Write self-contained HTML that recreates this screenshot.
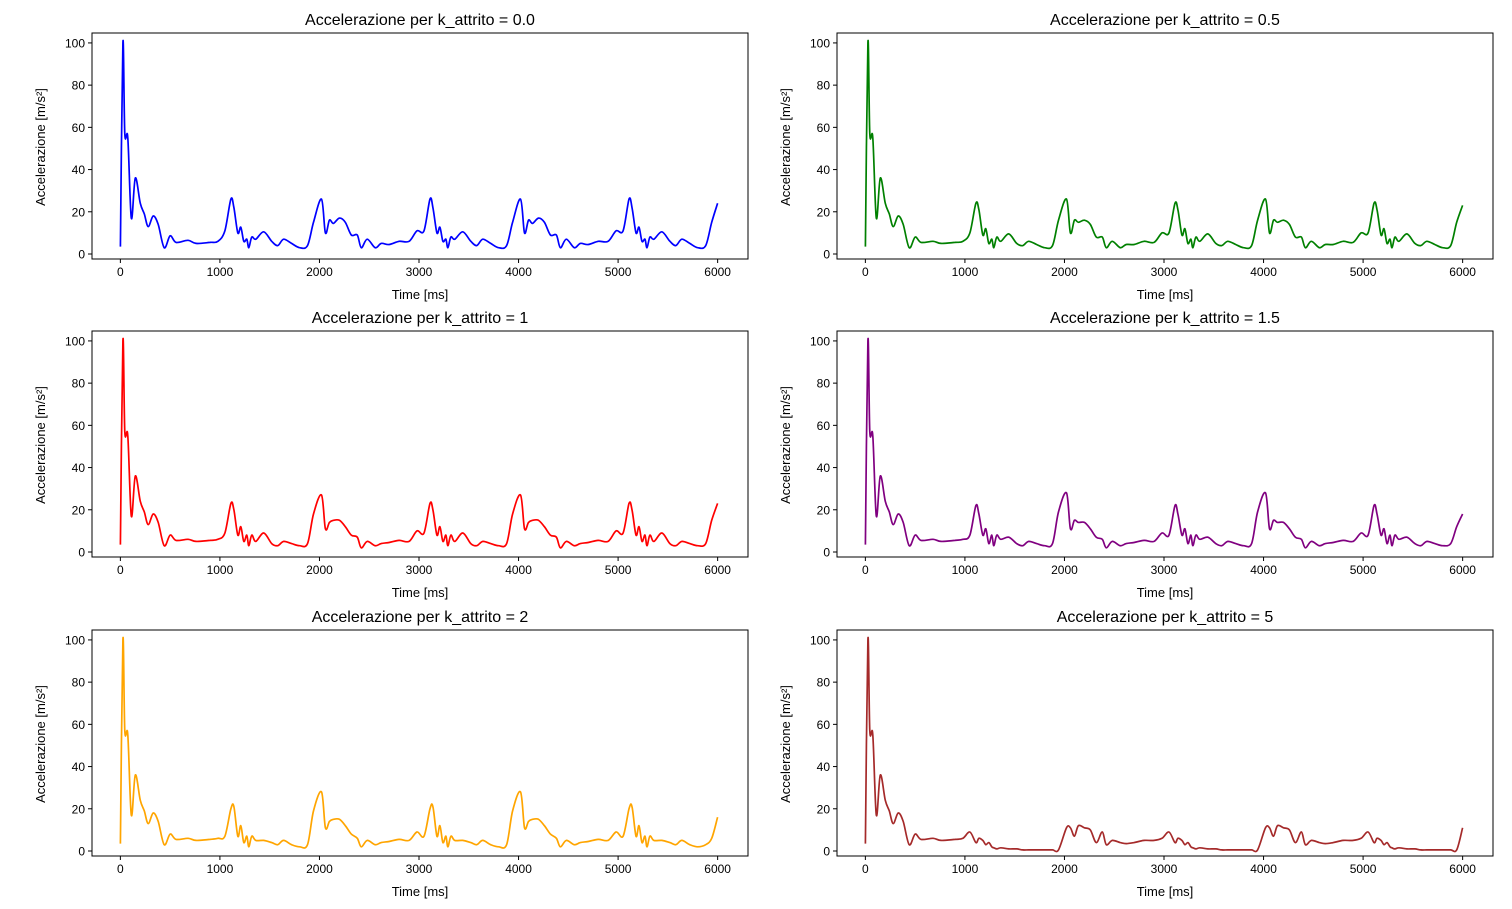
<!DOCTYPE html>
<html><head><meta charset="utf-8"><style>
html,body{margin:0;padding:0;background:#fff;}
svg{display:block;font-family:"Liberation Sans","DejaVu Sans",sans-serif;}
</style></head><body>
<svg id="fig" width="1512" height="909" viewBox="0 0 1512 909" xmlns="http://www.w3.org/2000/svg"></svg>
<script>
const T = [0,25,45,75,110,150,200,240,280,330,380,440,500,560,680,760,900,980,
1050,1110,1140,1180,1210,1240,1270,1290,1320,1360,1440,1520,1580,1640,1720,1800,1880,1940,
2020,2060,2100,2140,2200,2260,2320,2380,2420,2480,2560,2620,2700,2800,2900,2980,
3050,3110,3140,3180,3210,3240,3270,3290,3320,3360,3440,3520,3580,3640,3720,3800,3880,3940,
4020,4060,4100,4140,4200,4260,4320,4380,4420,4480,4560,4620,4700,4800,4900,4980,
5050,5110,5140,5180,5210,5240,5270,5290,5320,5360,5440,5520,5580,5640,5720,5800,5880,5940,
6000];
const titles = ["Accelerazione per k_attrito = 0.0","Accelerazione per k_attrito = 0.5","Accelerazione per k_attrito = 1","Accelerazione per k_attrito = 1.5","Accelerazione per k_attrito = 2","Accelerazione per k_attrito = 5"];
const colors = ["#0000ff","#008000","#ff0000","#800080","#ffa500","#a52a2a"];
const s0 = [3.5,100,57,55,17,36,24,19,13,18,14,3,8.6,5.5,6.5,5,5.5,6,
11,26,22,10,12.7,6,7,3,8,7,10.5,6,4,7,5,3,4,15,
26,10,16,14.5,17,15,9,9,3,7,3,5,4.5,6,6,11,
11,26,22,10,12.7,6,7,3,8,7,10.5,6,4,7,5,3,4,15,
26,10,16,14.5,17,15,9,9,3,7,3,5,4.5,6,6,11,
11,26,22,10,12.7,6,7,3,8,7,10.5,6,4,7,5,3,4,15,
24];
const s1 = [3.5,100,57,55,17,36,24,19,13,18,14,3,8,5.5,6,5,5.5,6,
10,24,21,9,12,5,7,3,8,6,9.5,5,4,6,4.5,3,4,16,
26,10,16,15,16,14,8,8,3,6,3,4.5,4.5,6,5.5,10,
10,24,21,9,12,5,7,3,8,6,9.5,5,4,6,4.5,3,4,16,
26,10,16,15,16,14,8,8,3,6,3,4.5,4.5,6,5.5,10,
10,24,21,9,12,5,7,3,8,6,9.5,5,4,6,4.5,3,4,15,
23];
const s2 = [3.5,100,57,55,17,36,24,19,13,18,14,3,8,5.5,6,5,5.5,6,
9,23,20,8,12,5,8,3,8,5,9,4,3,5,4,3,4,18,
27,11,14,15,15,12,8,7,2,5,3,4,4.5,5.5,5,10,
9,23,20,8,12,5,8,3,8,5,9,4,3,5,4,3,4,18,
27,11,14,15,15,12,8,7,2,5,3,4,4.5,5.5,5,10,
9,23,20,8,12,5,8,3,8,5,9,4,3,5,4,3,4,15,
23];
const s3 = [3.5,100,57,55,17,36,24,19,13,18,14,3,8,5.5,6,5,5.5,6,
8,22,18,8,11,4,8,3,8,6,7,4,3,5,4,3,4,19,
28,11,15,14,14,11,7,6,2,5,3,4,4.5,5.5,5,9,
8,22,18,8,11,4,8,3,8,6,7,4,3,5,4,3,4,19,
28,11,15,14,14,11,7,6,2,5,3,4,4.5,5.5,5,9,
8,22,18,8,11,4,8,3,8,6,7,4,3,5,4,3,4,12,
18];
const s4 = [3.5,100,57,55,17,36,24,19,13,18,14,3,8,5.5,6,5,5.5,6,
7,20,21,7,12,4,7,2,7,5,5,4,3,5,3,2,3,19,
28,11,14,15,15,12,8,6,2,5,3,4,4.5,5.5,5,9,
7,20,21,7,12,4,7,2,7,5,5,4,3,5,3,2,3,19,
28,11,14,15,15,12,8,6,2,5,3,4,4.5,5.5,5,9,
7,20,21,7,12,4,7,2,7,5,5,4,3,5,3,2,3,6,
16];
const s5 = [3.5,100,57,55,17,36,24,19,13,18,14,3,8,5.5,6,5,5.5,6,
9,4,6,5,3,4,2,1.5,1,1.5,1,1,0.5,0.5,0.5,0.5,0.5,0.5,
11,11,7,12,11,10,4,9,3,5,4,3.5,4,5,5,6,
9,4,6,5,3,4,2,1.5,1,1.5,1,1,0.5,0.5,0.5,0.5,0.5,0.5,
11,11,7,12,11,10,4,9,3,5,4,3.5,4,5,5,6,
9,4,6,5,3,4,2,1.5,1,1.5,1,1,0.5,0.5,0.5,0.5,0.5,0.5,
11];
const series = [s0,s1,s2,s3,s4,s5];
const xTicks = [0,1000,2000,3000,4000,5000,6000];
const yTicks = [0,20,40,60,80,100];

const NS = "http://www.w3.org/2000/svg";
const fig = document.getElementById('fig');
function mk(tag, attrs, parent){const e=document.createElementNS(NS,tag);for(const k in attrs)e.setAttribute(k,attrs[k]);(parent||fig).appendChild(e);return e;}
const lefts=[92,837], tops=[33,331,630], W=656, H=226;
const xMin=-285,xMax=6305,yMin=-2.37,yMax=104.7;
function smoothPath(P){
  let d='M'+P[0][0].toFixed(1)+','+P[0][1].toFixed(1);
  for(let i=0;i<P.length-1;i++){
    const p0=P[Math.max(0,i-1)],p1=P[i],p2=P[i+1],p3=P[Math.min(P.length-1,i+2)];
    const c1x=p1[0]+(p2[0]-p0[0])/6,c1y=p1[1]+(p2[1]-p0[1])/6;
    const c2x=p2[0]-(p3[0]-p1[0])/6,c2y=p2[1]-(p3[1]-p1[1])/6;
    d+='C'+c1x.toFixed(1)+','+c1y.toFixed(1)+' '+c2x.toFixed(1)+','+c2y.toFixed(1)+' '+p2[0].toFixed(1)+','+p2[1].toFixed(1);
  }
  return d;
}
for(let i=0;i<6;i++){
  const L=lefts[i%2], Tp=tops[Math.floor(i/2)];
  const xs=v=>L+(v-xMin)/(xMax-xMin)*W;
  const ys=v=>Tp+H-(v-yMin)/(yMax-yMin)*H;
  const g=mk('g',{});
  
  
  const pts=T.map((t,j)=>[xs(t),ys(series[i][j])]);
  const p=mk('path',{d:smoothPath(pts),fill:'none',stroke:colors[i],'stroke-width':1.7,'stroke-linejoin':'round'},g);
  
  
  const fr=mk('rect',{x:L,y:Tp,width:W,height:H,fill:'none',stroke:'#000','stroke-width':1},g);
  
  
  xTicks.forEach(v=>{const x=xs(v);mk('line',{x1:x,x2:x,y1:Tp+H,y2:Tp+H+4,stroke:'#000'},g);
    const t=mk('text',{x:x,y:Tp+H+17,'font-size':12,'text-anchor':'middle'},g);t.textContent=v;
    
    });
  yTicks.forEach(v=>{const y=ys(v);mk('line',{x1:L-4,x2:L,y1:y,y2:y,stroke:'#000'},g);
    const t=mk('text',{x:L-7,y:y+4.5,'font-size':12,'text-anchor':'end'},g);t.textContent=v;
    
    });
  const ti=mk('text',{x:L+W/2,y:Tp-8,'font-size':16,'text-anchor':'middle'},g);ti.textContent=titles[i];
  
  
  const xl=mk('text',{x:L+W/2,y:Tp+H+40,'font-size':13,'text-anchor':'middle'},g);xl.textContent='Time [ms]';
  
  
  const yl=mk('text',{x:0,y:0,'font-size':13,'text-anchor':'middle',transform:`translate(${L-47},${Tp+H/2+1}) rotate(-90)`},g);yl.textContent='Accelerazione [m/s²]';
  
  
}
</script>
</body></html>
